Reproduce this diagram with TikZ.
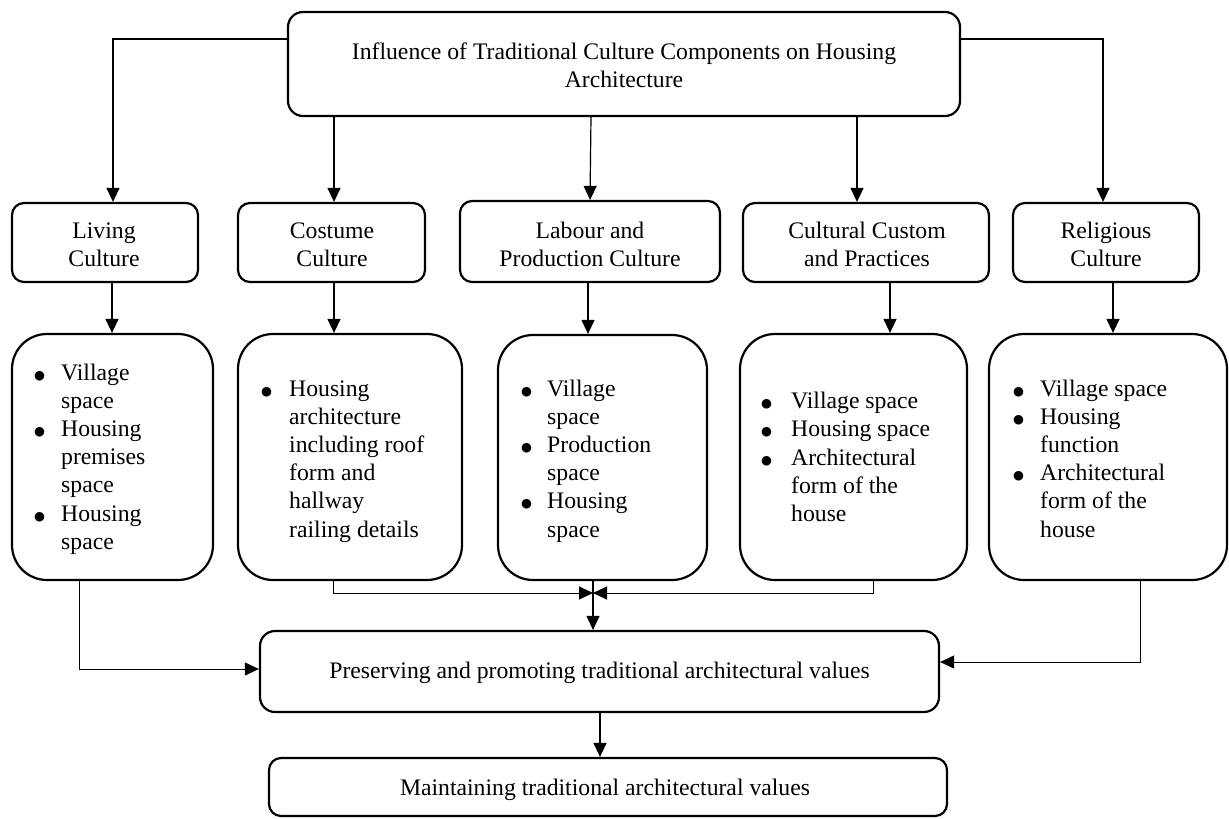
\documentclass[tikz,border=0pt]{standalone}
\usepackage{fontspec}
\setmainfont{Liberation Serif}
\newfontfamily\dejavu{DejaVu Sans}
\usetikzlibrary{arrows.meta}
\newcommand{\bodyfont}{\fontsize{23.7}{28.2}\selectfont}
\newcommand{\bul}{\raisebox{1pt}{{\dejavu\fontsize{12.5}{12.5}\selectfont ●}}}
\newcommand{\blist}[2]{\begin{tabular}{@{}p{#1}@{}l@{}}#2\end{tabular}}
\newcommand{\twol}[2]{\begin{tabular}{@{}c@{}}#1\\#2\end{tabular}}
\begin{document}
\begin{tikzpicture}[x=1pt,y=-1pt,
  box/.style={draw, line width=2.2pt, inner sep=0pt},
  txt/.style={inner sep=0pt, font=\bodyfont},
  arr/.style={-{Triangle[length=14pt,width=13pt]}, line width=1.2pt},
  thinarr/.style={-{Triangle[length=14pt,width=13pt]}, line width=1pt}]
\useasboundingbox (0,0) rectangle (1229,819);
% top
\node[box, minimum width=672pt, minimum height=104pt, rounded corners=15pt] (top) at (624,64) {};
\node[txt] (toptxt) at (624,67.5) {\twol{Influence of Traditional Culture Components on Housing}{Architecture}};
% row 2
\node[box, minimum width=186pt, minimum height=79pt, rounded corners=12pt] (liv2) at (105,242.5) {};
\node[box, minimum width=187pt, minimum height=79pt, rounded corners=12pt] (cos2) at (331.5,242.5) {};
\node[box, minimum width=260pt, minimum height=81pt, rounded corners=12pt] (lab2) at (590,241.5) {};
\node[box, minimum width=246pt, minimum height=79pt, rounded corners=12pt] (cul2) at (866,242.5) {};
\node[box, minimum width=186pt, minimum height=79pt, rounded corners=12pt] (rel2) at (1106,242.5) {};
\node[txt] (liv2t) at (104,246.5) {\twol{Living}{Culture}};
\node[txt] (cos2t) at (332,246.5) {\twol{Costume}{Culture}};
\node[txt] (lab2t) at (590,246.5) {\twol{Labour and}{Production Culture}};
\node[txt] (cul2t) at (867,246.5) {\twol{Cultural Custom}{and Practices}};
\node[txt] (rel2t) at (1106,246.5) {\twol{Religious}{Culture}};
% row 3
\node[box, minimum width=201pt, minimum height=246pt, rounded corners=35pt] (liv3) at (112.5,457) {};
\node[box, minimum width=224pt, minimum height=246pt, rounded corners=35pt] (cos3) at (350,457) {};
\node[box, minimum width=209pt, minimum height=245pt, rounded corners=35pt] (lab3) at (602.5,457.5) {};
\node[box, minimum width=227pt, minimum height=246pt, rounded corners=35pt] (cul3) at (853.5,457) {};
\node[box, minimum width=238pt, minimum height=246pt, rounded corners=35pt] (rel3) at (1108,457) {};
\node[txt, anchor=west] (liv3t) at (34,459) {\blist{27pt}{\bul & Village\\ & space\\ \bul & Housing\\ & premises\\ & space\\ \bul & Housing\\ & space}};
\node[txt, anchor=west] (cos3t) at (261,461) {\blist{28pt}{\bul & Housing\\ & architecture\\ & including roof\\ & form and\\ & hallway\\ & railing details}};
\node[txt, anchor=west] (lab3t) at (521,461) {\blist{26pt}{\bul & Village\\ & space\\ \bul & Production\\ & space\\ \bul & Housing\\ & space}};
\node[txt, anchor=west] (cul3t) at (761,459.5) {\blist{30pt}{\bul & Village space\\ \bul & Housing space\\ \bul & Architectural\\ & form of the\\ & house}};
\node[txt, anchor=west] (rel3t) at (1013,461) {\blist{27pt}{\bul & Village space\\ \bul & Housing\\ & function\\ \bul & Architectural\\ & form of the\\ & house}};
% bottom boxes
\node[box, minimum width=679pt, minimum height=81pt, rounded corners=15pt] (pres) at (599.5,671.5) {};
\node[txt] (prest) at (599.5,673) {Preserving and promoting traditional architectural values};
\node[box, minimum width=678pt, minimum height=58pt, rounded corners=12pt] (maint) at (608,787) {};
\node[txt] (maintt) at (605,790) {Maintaining traditional architectural values};
% connectors top
\coordinate (tl) at (113,39);
\coordinate (tr) at (1103,39);
\draw[arr] (top.west |- tl) -| (tl |- liv2.north);
\draw[arr] (top.east |- tr) -| (tr |- rel2.north);
\coordinate (a2) at (334,0);
\coordinate (a3t) at (591,0);
\coordinate (a3b) at (590,0);
\coordinate (a4) at (857,0);
\draw[arr] (a2 |- top.south) -- (a2 |- cos2.north);
\draw[arr] (a3t |- top.south) -- (a3b |- lab2.north);
\draw[arr] (a4 |- top.south) -- (a4 |- cul2.north);
% row 2 to row 3
\coordinate (b1) at (112,0);
\coordinate (b2) at (334,0);
\coordinate (b3) at (588,0);
\coordinate (b4) at (890,0);
\coordinate (b5) at (1113,0);
\draw[arr] (b1 |- liv2.south) -- (b1 |- liv3.north);
\draw[arr] (b2 |- cos2.south) -- (b2 |- cos3.north);
\draw[arr] (b3 |- lab2.south) -- (b3 |- lab3.north);
\draw[arr] (b4 |- cul2.south) -- (b4 |- cul3.north);
\draw[arr] (b5 |- rel2.south) -- (b5 |- rel3.north);
% bottom connectors
\coordinate (lv) at (79,669);
\coordinate (rv) at (1140,662);
\coordinate (J) at (593,593);
\coordinate (cs) at (333,0);
\coordinate (cu) at (873,0);
\coordinate (pm) at (600,0);
\draw[thinarr] (lv |- liv3.south) |- (pres.west |- lv);
\draw[thinarr] (rv |- rel3.south) |- (pres.east |- rv);
\draw[thinarr] (cs |- cos3.south) |- (J);
\draw[thinarr] (cu |- cul3.south) |- (J);
\draw[arr] (J |- lab3.south) -- (J |- pres.north);
\draw[arr] (pm |- pres.south) -- (pm |- maint.north);
\end{tikzpicture}
\end{document}
